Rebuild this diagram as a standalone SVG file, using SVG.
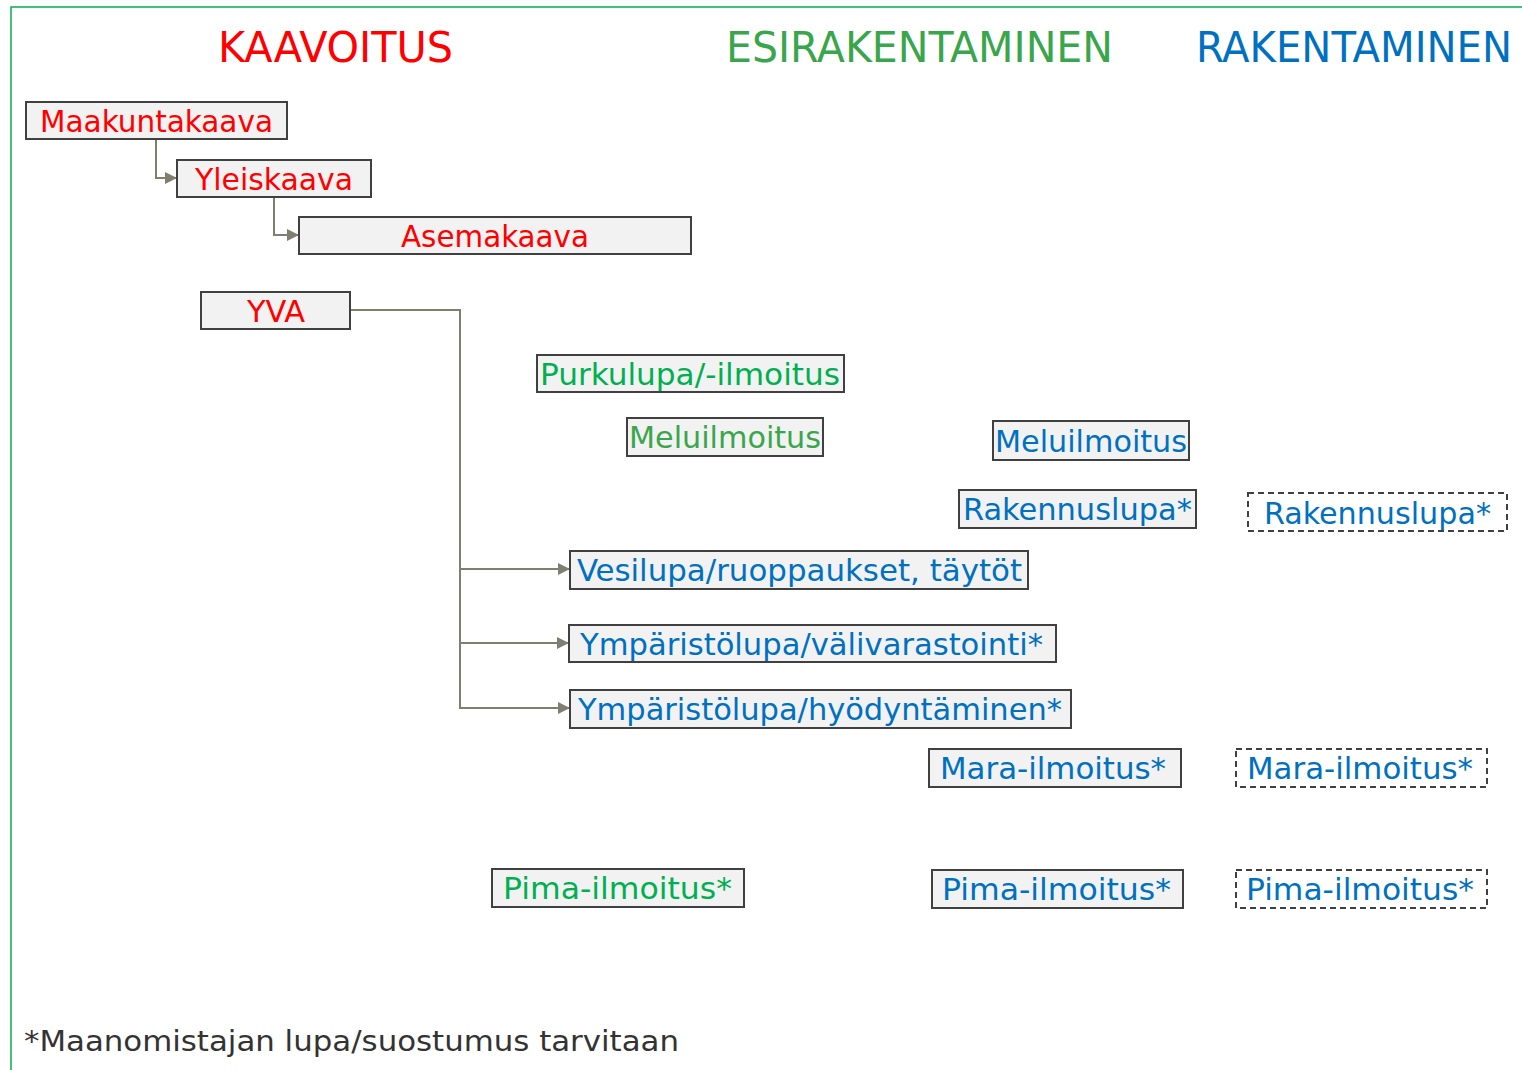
<svg xmlns="http://www.w3.org/2000/svg" width="1522" height="1070" viewBox="0 0 1522 1070">
<style>
.t{font-family:"DejaVu Sans","Verdana","Liberation Sans",sans-serif;font-stretch:condensed}
.n{font-size:31px}
.h{font-size:42px}
.box{fill:#F2F2F2;stroke:#404040;stroke-width:2}
.dbox{fill:#FFFFFF;stroke:#404040;stroke-width:2;stroke-dasharray:6 4}
.red{fill:#FF0000}.grn{fill:#00B050}.grn2{fill:#3AA64C}.blu{fill:#0070C0}
.c{fill:none;stroke:#7F7F6F;stroke-width:2}
</style>
<defs>
<marker id="ah" viewBox="0 0 10 10" refX="10" refY="5" markerWidth="6" markerHeight="6" orient="auto" markerUnits="strokeWidth">
<path d="M0,0 L10,5 L0,10 z" fill="#7F7F6F"/>
</marker>
</defs>
<rect width="1522" height="1070" fill="#FFFFFF"/>
<path d="M11,1070 V7 H1522" fill="none" stroke="#00B050" stroke-width="1.5"/>
<g id="headers">
<text class="t h red" x="218" y="62" textLength="235" lengthAdjust="spacingAndGlyphs">KAAVOITUS</text>
<text class="t h grn2" x="726" y="62" textLength="387" lengthAdjust="spacingAndGlyphs">ESIRAKENTAMINEN</text>
<text class="t h blu" x="1196" y="62" textLength="316" lengthAdjust="spacingAndGlyphs">RAKENTAMINEN</text>
</g>
<g id="connectors">
<path class="c" d="M156,139 V178 H177" marker-end="url(#ah)"/>
<path class="c" d="M274,197 V235 H299" marker-end="url(#ah)"/>
<path class="c" d="M350,310 H460 V708 H570" marker-end="url(#ah)"/>
<path class="c" d="M460,569 H570" marker-end="url(#ah)"/>
<path class="c" d="M460,643 H569" marker-end="url(#ah)"/>
</g>
<g id="maakuntakaava"><rect class="box" x="26" y="102" width="261" height="37"/><text class="t n red" x="40" y="132" textLength="233" lengthAdjust="spacingAndGlyphs">Maakuntakaava</text></g>
<g id="yleiskaava"><rect class="box" x="177" y="160" width="194" height="37"/><text class="t n red" x="195" y="190" textLength="158" lengthAdjust="spacingAndGlyphs">Yleiskaava</text></g>
<g id="asemakaava"><rect class="box" x="299" y="217" width="392" height="37"/><text class="t n red" x="401" y="247" textLength="188" lengthAdjust="spacingAndGlyphs">Asemakaava</text></g>
<g id="yva"><rect class="box" x="201" y="292" width="149" height="37"/><text class="t n red" x="247" y="322" textLength="58" lengthAdjust="spacingAndGlyphs">YVA</text></g>
<g id="purkulupa"><rect class="box" x="537" y="355" width="307" height="37"/><text class="t n grn" x="540" y="385" textLength="300" lengthAdjust="spacingAndGlyphs">Purkulupa/-ilmoitus</text></g>
<g id="meluilmoitus-esi"><rect class="box" x="627" y="418" width="196" height="38"/><text class="t n grn2" x="629" y="448" textLength="192" lengthAdjust="spacingAndGlyphs">Meluilmoitus</text></g>
<g id="meluilmoitus-rak"><rect class="box" x="993" y="421" width="196" height="39"/><text class="t n blu" x="995" y="452" textLength="192" lengthAdjust="spacingAndGlyphs">Meluilmoitus</text></g>
<g id="rakennuslupa"><rect class="box" x="959" y="490" width="237" height="38"/><text class="t n blu" x="963" y="520" textLength="229" lengthAdjust="spacingAndGlyphs">Rakennuslupa*</text></g>
<g id="rakennuslupa-d"><rect class="dbox" x="1248" y="493" width="259" height="38"/><text class="t n blu" x="1264" y="524" textLength="227" lengthAdjust="spacingAndGlyphs">Rakennuslupa*</text></g>
<g id="vesilupa"><rect class="box" x="570" y="551" width="458" height="38"/><text class="t n blu" x="577" y="581" textLength="445" lengthAdjust="spacingAndGlyphs">Vesilupa/ruoppaukset, täytöt</text></g>
<g id="ymparistolupa-vali"><rect class="box" x="569" y="625" width="487" height="37"/><text class="t n blu" x="580" y="655" textLength="463" lengthAdjust="spacingAndGlyphs">Ympäristölupa/välivarastointi*</text></g>
<g id="ymparistolupa-hyod"><rect class="box" x="570" y="690" width="501" height="38"/><text class="t n blu" x="578" y="720" textLength="484" lengthAdjust="spacingAndGlyphs">Ympäristölupa/hyödyntäminen*</text></g>
<g id="mara"><rect class="box" x="929" y="749" width="252" height="38"/><text class="t n blu" x="940" y="779" textLength="226" lengthAdjust="spacingAndGlyphs">Mara-ilmoitus*</text></g>
<g id="mara-d"><rect class="dbox" x="1236" y="749" width="251" height="38"/><text class="t n blu" x="1247" y="779" textLength="226" lengthAdjust="spacingAndGlyphs">Mara-ilmoitus*</text></g>
<g id="pima-esi"><rect class="box" x="492" y="869" width="252" height="38"/><text class="t n grn" x="503" y="899" textLength="229" lengthAdjust="spacingAndGlyphs">Pima-ilmoitus*</text></g>
<g id="pima-rak"><rect class="box" x="932" y="870" width="251" height="38"/><text class="t n blu" x="942" y="900" textLength="229" lengthAdjust="spacingAndGlyphs">Pima-ilmoitus*</text></g>
<g id="pima-d"><rect class="dbox" x="1236" y="870" width="251" height="38"/><text class="t n blu" x="1246" y="900" textLength="228" lengthAdjust="spacingAndGlyphs">Pima-ilmoitus*</text></g>
<text class="t" x="24" y="1051" font-size="28" fill="#333333" textLength="655" lengthAdjust="spacingAndGlyphs">*Maanomistajan lupa/suostumus tarvitaan</text>
</svg>
